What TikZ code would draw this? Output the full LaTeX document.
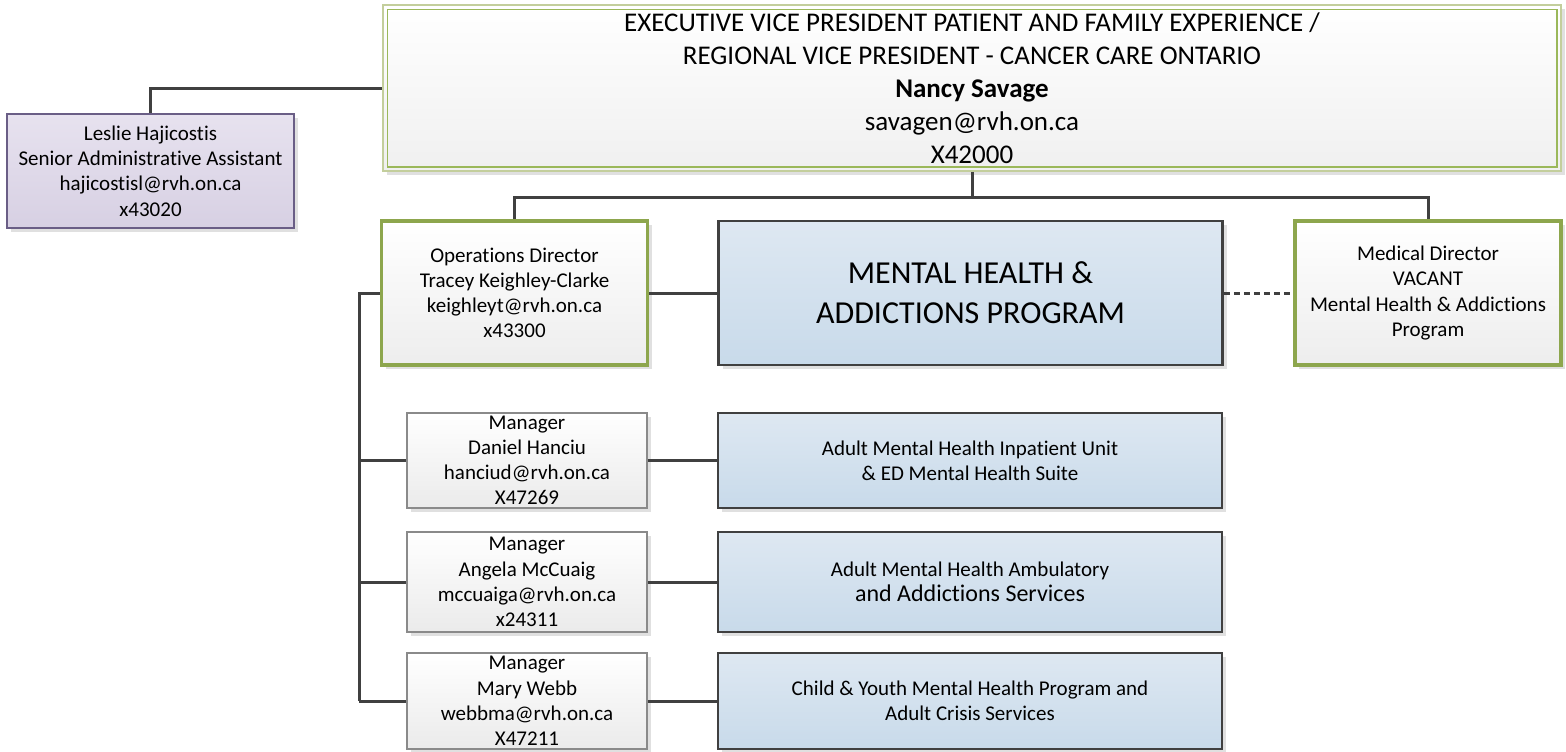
\documentclass[tikz,border=0pt]{standalone}
\usepackage{fontspec}
\setmainfont{Carlito}[Ligatures=NoCommon]
\usepackage{xcolor}
\usepackage{tikz}
\usetikzlibrary{shadows}

\definecolor{lineclr}{HTML}{404040}
\definecolor{evpline}{HTML}{C3CE9C}
\definecolor{evpinner}{HTML}{9BB85A}
\definecolor{dirline}{HTML}{8DA64D}
\definecolor{progtop}{HTML}{DEE8F2}
\definecolor{progbot}{HTML}{C8DAEA}
\definecolor{admtop}{HTML}{E7E2EF}
\definecolor{admbot}{HTML}{D7D0E3}
\definecolor{admline}{HTML}{6A5E86}
\definecolor{mgrline}{HTML}{8A8A8A}

\tikzset{
    boxshadow/.style={drop shadow={shadow xshift=2pt,shadow yshift=-2pt,fill=black!12,opacity=1}},
    basebox/.style={rectangle,inner sep=0pt,align=center,boxshadow,
        font=\fontsize{10.5}{12.6}\selectfont},
    evpbox/.style={basebox,draw=evpline,line width=0.9pt,top color=white,bottom color=black!6,
        minimum width=589pt,minimum height=83pt,font=\fontsize{13.5}{16.5}\selectfont},
    dirbox/.style={basebox,draw=dirline,line width=1.7pt,top color=white,bottom color=black!7,
        minimum width=133pt,minimum height=72pt},
    progbox/.style={basebox,draw=lineclr,line width=1.4pt,top color=progtop,bottom color=progbot,
        minimum width=252pt},
    mgrbox/.style={basebox,draw=mgrline,line width=0.8pt,top color=white,bottom color=black!8,
        minimum width=120pt},
    admbox/.style={basebox,draw=admline,line width=0.8pt,top color=admtop,bottom color=admbot,
        minimum width=143.5pt,minimum height=57pt},
    conn/.style={draw=lineclr,line width=1.5pt},
}

\begin{document}
\begin{tikzpicture}[x=0.5pt,y=-0.5pt]
    % \draw[help lines] grid (1566,751);
    \useasboundingbox (0,0) rectangle (1566,751);

    % Executive
    \node[evpbox] (evp) at (972,88) {EXECUTIVE VICE PRESIDENT PATIENT AND FAMILY EXPERIENCE /\\
        REGIONAL VICE PRESIDENT - CANCER CARE ONTARIO\\
        \textbf{Nancy Savage}\\savagen@rvh.on.ca\\X42000};
    \draw[evpinner,line width=0.6pt] ([shift={(5,5)}]evp.north west) rectangle ([shift={(-5,-5)}]evp.south east);

    % Assistant
    \node[admbox] (adm) at (150.5,171) {Leslie Hajicostis\\Senior Administrative Assistant\\
        hajicostisl@rvh.on.ca\\x43020};

    % Directors and program
    \node[dirbox] (ops) at (514.5,293) {Operations Director\\Tracey Keighley-Clarke\\
        keighleyt@rvh.on.ca\\x43300};
    \node[progbox,minimum height=72pt,font=\fontsize{16}{20}\selectfont] (prog) at (970.5,293)
        {MENTAL HEALTH \&\\ADDICTIONS PROGRAM};
    \node[dirbox] (med) at (1428,293) {Medical Director\\VACANT\\
        Mental Health \& Addictions\\Program};

    % Connectors from top
    \coordinate (bus) at (972,197);
    \coordinate (spine) at (359,293);
    \draw[conn] (evp.south) -- (bus);
    \draw[conn] (ops.north) |- (bus) -| (med.north);
    \draw[conn] (adm.north) |- (evp.west);
    \draw[conn] (ops.east) -- (prog.west);
    \draw[conn,dash pattern=on 3pt off 2pt] (prog.east) -- (med.west);

    % Managers and services
    \foreach \i / \y / \hgt / \mgr / \svc in {
        1/460.5/47.5pt/{Manager\\Daniel Hanciu\\hanciud@rvh.on.ca\\X47269}/{Adult Mental Health Inpatient Unit\\\& ED Mental Health Suite},
        2/582/50pt/{Manager\\Angela McCuaig\\mccuaiga@rvh.on.ca\\x24311}/{Adult Mental Health Ambulatory\\{\fontsize{12}{14.5}\selectfont and Addictions Services}},
        3/701/48pt/{Manager\\Mary Webb\\webbma@rvh.on.ca\\X47211}/{Child \& Youth Mental Health Program and\\Adult Crisis Services}} {

        \node[mgrbox,minimum height=\hgt] (mgr\i) at (527,\y) {\mgr};
        \node[progbox,minimum height=\hgt] (svc\i) at (970,\y) {\svc};
        \draw[conn] (mgr\i.east) -- (svc\i.west);
    }

    % Spine
    \coordinate (spinebot) at (359,701);
    \draw[conn] (ops.west) -| (spinebot);
    \foreach \i in {1,2,3} {
        \draw[conn] (mgr\i.west) -- (mgr\i.west -| spine);
    }

\end{tikzpicture}
\end{document}
